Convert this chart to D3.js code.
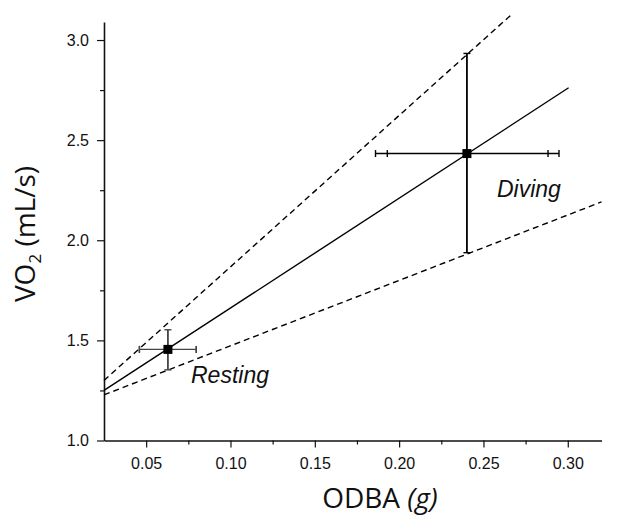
<!DOCTYPE html>
<html><head><meta charset="utf-8">
<script src="https://cdn.jsdelivr.net/npm/d3@7"></script>
<style>
body{margin:0;background:#fff;}
svg{display:block;}
.tick text{font-family:"Liberation Sans",Arial,sans-serif;font-size:16px;fill:#111;}
</style></head>
<body><svg id="c" width="620" height="516"></svg>
<script>
// ---- data ----
const xTicks = [0.05, 0.10, 0.15, 0.20, 0.25, 0.30];
const xMinorTicks = [0.075, 0.125, 0.175, 0.225, 0.275];
const yTicks = [1.0, 1.5, 2.0, 2.5, 3.0];
const yMinorTicks = [1.25, 1.75, 2.25, 2.75];
const categories = ["Resting", "Diving"];
const odba = [0.0629, 0.2402];
const vo2 = [1.455, 2.433];
const vo2Low = [1.353, 1.938];
const vo2High = [1.553, 2.933];
const odbaLow = [0.046, 0.193];
const odbaHigh = [0.0797, 0.2883];
const odbaLowOuter = [0.046, 0.186];
const odbaHighOuter = [0.0797, 0.2948];
const fitX = [0.025, 0.3005], fitY = [1.25, 2.7615];
const upperX = [0.025, 0.2659], upperY = [1.30, 3.1215];
const lowerX = [0.025, 0.32], lowerY = [1.228, 2.1915];

// ---- chart ----
const svg = d3.select("#c");
const x = d3.scaleLinear().domain([0.025, 0.32]).range([104, 601.5]);
const y = d3.scaleLinear().domain([1.0, 3.09]).range([440.5, 22]);

// axes
svg.append("g").attr("transform", `translate(0,${y(1.0)})`)
  .call(d3.axisBottom(x).tickValues(xTicks).tickFormat(d3.format(".2f")).tickSize(7).tickPadding(10).tickSizeOuter(0));
svg.append("g").attr("transform", `translate(0,${y(1.0)})`)
  .call(d3.axisBottom(x).tickValues(xMinorTicks).tickFormat("").tickSize(4).tickSizeOuter(0))
  .select(".domain").remove();
svg.append("g").attr("transform", `translate(${x(0.025)},0)`)
  .call(d3.axisLeft(y).tickValues(yTicks).tickFormat(d3.format(".1f")).tickSize(7).tickPadding(8).tickSizeOuter(0));
svg.append("g").attr("transform", `translate(${x(0.025)},0)`)
  .call(d3.axisLeft(y).tickValues(yMinorTicks).tickFormat("").tickSize(4).tickSizeOuter(0))
  .select(".domain").remove();
svg.selectAll(".domain").attr("stroke", "#111").attr("stroke-width", 1.6);
svg.selectAll(".tick line").attr("stroke", "#111").attr("stroke-width", 1.2);

// lines
const line = d3.line().x(d => x(d[0])).y(d => y(d[1]));
function drawLine(xs, ys, dashed) {
  svg.append("path").datum(xs.map((v, i) => [v, ys[i]])).attr("d", line)
    .attr("fill", "none").attr("stroke", "#000").attr("stroke-width", 1.4)
    .attr("stroke-dasharray", dashed ? "6,4" : null);
}
drawLine(upperX, upperY, true);
drawLine(lowerX, lowerY, true);
drawLine(fitX, fitY, false);

// error bars
const cap = 3.5;
categories.forEach((c, i) => {
  const g = svg.append("g").attr("stroke", i === 0 ? "#444" : "#000").attr("stroke-width", 1.4).attr("fill", "none");
  g.append("line").attr("x1", x(odba[i])).attr("x2", x(odba[i])).attr("y1", y(vo2Low[i])).attr("y2", y(vo2High[i])).attr("stroke-width", 1.8);
  [vo2Low[i], vo2High[i]].forEach(v => g.append("line").attr("x1", x(odba[i]) - cap).attr("x2", x(odba[i]) + cap).attr("y1", y(v)).attr("y2", y(v)));
  g.append("line").attr("x1", x(odbaLowOuter[i])).attr("x2", x(odbaHighOuter[i])).attr("y1", y(vo2[i])).attr("y2", y(vo2[i]));
  [odbaLow[i], odbaHigh[i], odbaLowOuter[i], odbaHighOuter[i]].forEach(v => g.append("line").attr("x1", x(v)).attr("x2", x(v)).attr("y1", y(vo2[i]) - cap).attr("y2", y(vo2[i]) + cap));
});

// markers
svg.selectAll("rect.pt").data(categories).enter().append("rect").attr("class", "pt")
  .attr("x", (d, i) => x(odba[i]) - 4.5).attr("y", (d, i) => y(vo2[i]) - 4.5)
  .attr("width", 9).attr("height", 9).attr("fill", "#000");

// point labels
const labelPos = [[191, 383], [497, 197]];
svg.selectAll("text.lab").data(categories).enter().append("text").attr("class", "lab")
  .attr("x", (d, i) => labelPos[i][0]).attr("y", (d, i) => labelPos[i][1])
  .attr("font-family", "Liberation Sans, Arial, sans-serif").attr("font-style", "italic")
  .attr("font-size", 23).attr("fill", "#111").text(d => d);

// axis titles
const xt = svg.append("text").attr("x", 380).attr("y", 508).attr("text-anchor", "middle")
  .attr("font-family", "Open Sans, sans-serif").attr("font-size", 28).attr("fill", "#111");
xt.append("tspan").text("ODBA ");
xt.append("tspan").attr("font-style", "italic").text("(g)");

const yt = svg.append("text").attr("transform", "translate(35,234) rotate(-90)").attr("text-anchor", "middle")
  .attr("font-family", "Open Sans, sans-serif").attr("font-size", 28).attr("fill", "#111");
yt.append("tspan").text("VO");
yt.append("tspan").attr("font-size", 17).attr("dy", 6).text("2");
yt.append("tspan").attr("dy", -6).text(" (mL/s)");
</script></body></html>
